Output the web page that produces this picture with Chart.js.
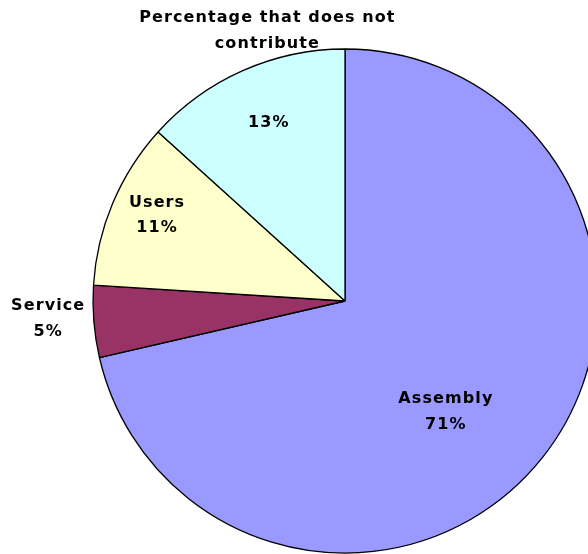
<!DOCTYPE html>
<html>
<head>
<meta charset="utf-8">
<script src="https://cdn.jsdelivr.net/npm/chart.js@4/dist/chart.umd.min.js"></script>
<style>
  html, body { margin: 0; padding: 0; background: #fff; }
  #wrap { width: 588px; height: 554px; }
</style>
</head>
<body>
<div id="wrap"><canvas id="pieChart" width="588" height="554"></canvas></div>
<script>
// slices, clockwise from 12 o'clock
const categories = ['Assembly', 'Service', 'Users', 'Percentage that does not contribute'];
const shares = [71.4, 4.6, 10.7, 13.3];
const sliceColors = ['#9999FF', '#993366', '#FFFFCC', '#CCFFFF'];

// label placement per slice: radial factor + angle nudge (deg)
const labelSpots = [
    { f: 0.595, da: 9.2 },
    { f: 1.18, da: 1.2 },
    { f: 0.82, da: 1.7 },
    { f: 0.77, da: 0.8, nameF: 1.115, nameDa: 7.9, nameLines: ['Percentage that does not', 'contribute'] }
];

const LINE_H = 25.5;

const pieLabels = {
    id: 'pieLabels',
    afterDatasetsDraw(chart) {
        const ctx = chart.ctx;
        const meta = chart.getDatasetMeta(0);
        const total = shares.reduce((a, b) => a + b, 0);
        ctx.save();
        ctx.font = 'bold 16px "DejaVu Sans"';
        ctx.letterSpacing = '1.1px';
        ctx.fillStyle = '#000';
        ctx.textAlign = 'center';
        ctx.textBaseline = 'middle';

        const at = (arc, f, da) => {
            const mid = (arc.startAngle + arc.endAngle) / 2 + da * Math.PI / 180;
            return {
                x: arc.x + Math.cos(mid) * arc.outerRadius * f,
                y: arc.y + Math.sin(mid) * arc.outerRadius * f
            };
        };

        meta.data.forEach((arc, i) => {
            const spot = labelSpots[i];
            const pct = Math.round(shares[i] / total * 100) + '%';
            if (spot.nameLines) {
                // name outside, value inside
                const p = at(arc, spot.nameF, spot.nameDa);
                spot.nameLines.forEach((ln, k) => {
                    ctx.fillText(ln, p.x, p.y + (k - (spot.nameLines.length - 1) / 2) * LINE_H);
                });
                const q = at(arc, spot.f, spot.da);
                ctx.fillText(pct, q.x, q.y);
            } else {
                const p = at(arc, spot.f, spot.da);
                ctx.fillText(categories[i], p.x, p.y - LINE_H / 2);
                ctx.fillText(pct, p.x, p.y + LINE_H / 2);
            }
        });
        ctx.restore();
    }
};

new Chart(document.getElementById('pieChart'), {
    type: 'pie',
    data: {
        labels: categories,
        datasets: [{
            data: shares,
            backgroundColor: sliceColors,
            borderColor: '#000',
            borderWidth: 1.3
        }]
    },
    options: {
        responsive: false,
        animation: false,
        radius: 252,
        layout: { padding: { left: 102, right: 0, top: 48, bottom: 0 } },
        plugins: {
            legend: { display: false },
            tooltip: { enabled: false }
        }
    },
    plugins: [pieLabels]
});
</script>
</body>
</html>
